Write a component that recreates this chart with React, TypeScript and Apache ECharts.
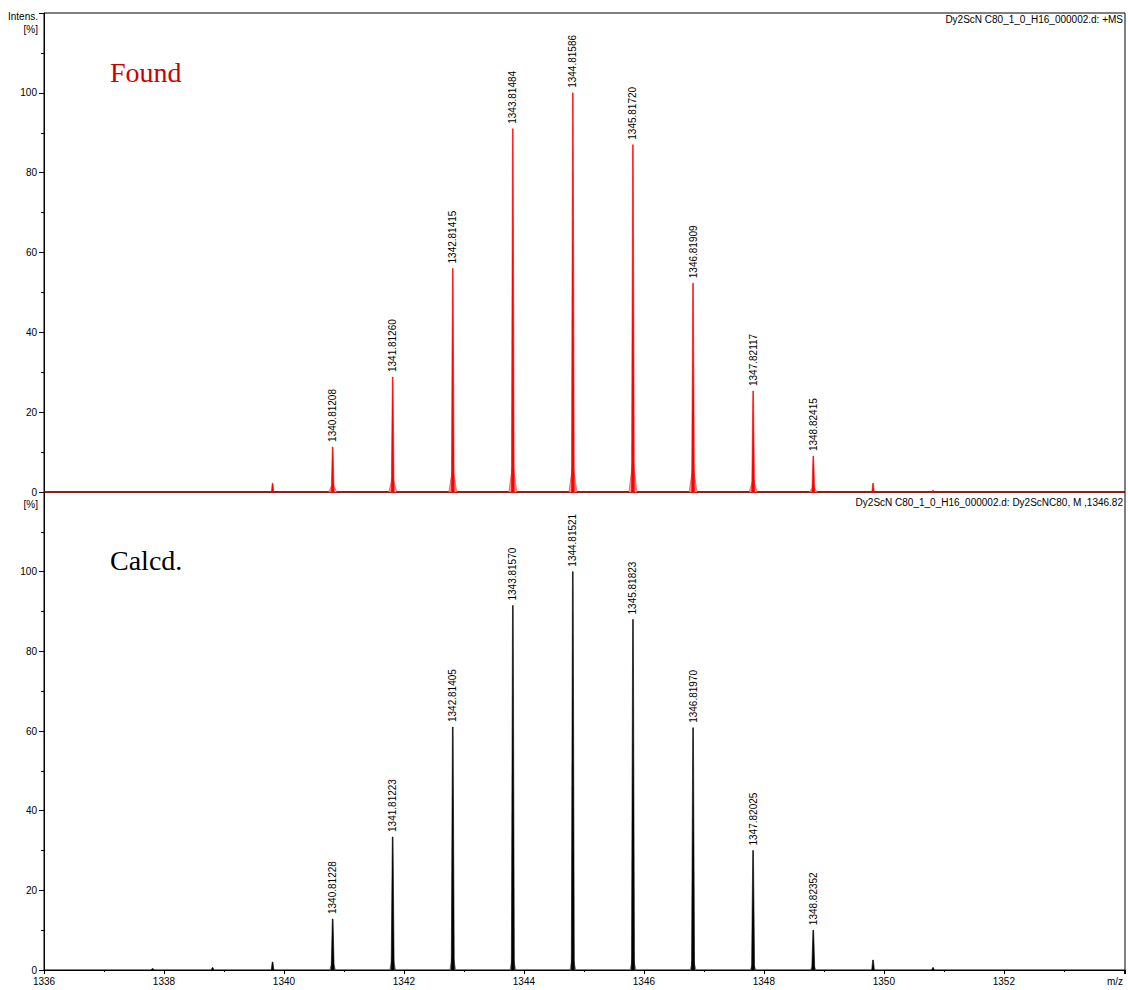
import React, { useEffect, useRef } from "react";
import * as echarts from "echarts";

// ---- Data ----
const foundMz = [1340.81208, 1341.8126, 1342.81415, 1343.81484, 1344.81586, 1345.8172, 1346.81909, 1347.82117, 1348.82415];
const foundInt = [11.3, 28.8, 56, 91, 100, 87, 52.3, 25.3, 9];
const foundShoulderInt = [2, 3.5, 5.5, 6.5, 6.5, 7.5, 6, 3, 1.2];
const foundMinorMz = [1339.81, 1349.82, 1350.82];
const foundMinorInt = [2.2, 2.2, 0.4];

const calcdMz = [1340.81228, 1341.81223, 1342.81405, 1343.8157, 1344.81521, 1345.81823, 1346.8197, 1347.82025, 1348.82352];
const calcdInt = [12.8, 33.4, 61, 91.5, 100, 88, 60.8, 30, 10];
const calcdShoulderInt = [2, 3, 3.5, 3, 3, 3, 2.5, 1.5, 1];
const calcdMinorMz = [1337.81, 1338.81, 1339.81, 1349.82, 1350.82];
const calcdMinorInt = [0.4, 0.6, 2, 2.5, 0.6];

const xMin = 1336;
const xMax = 1354.02;
const xInterval = 2;
const yTicks = [0, 20, 40, 60, 80, 100];
const yMax = 120;

const topTitle = "Dy2ScN C80_1_0_H16_000002.d: +MS";
const bottomTitle = "Dy2ScN C80_1_0_H16_000002.d: Dy2ScNC80, M ,1346.82";

const SANS = '"Liberation Sans", Arial, sans-serif';
const SERIF = '"Liberation Serif", "Times New Roman", serif';

function peakSeries(
  gi: number,
  mz: number[],
  ints: number[],
  color: string,
  opts: { labels?: boolean; halfBase?: number; baseline?: string; stroke?: string }
) {
  const halfBase = opts.halfBase ?? 1.3;
  return {
    type: "custom",
    xAxisIndex: gi,
    yAxisIndex: gi,
    clip: false,
    silent: true,
    data: mz.map((m, i) => [m, ints[i]]),
    renderItem: (params: any, api: any) => {
      const x = api.value(0);
      const y = api.value(1);
      const top = api.coord([x, y]);
      const base = api.coord([x, 0]);
      const children: any[] = [];
      if (opts.baseline && params.dataIndex === 0) {
        const cs = params.coordSys;
        children.push({
          type: "line",
          shape: { x1: cs.x, y1: base[1], x2: cs.x + cs.width, y2: base[1] },
          style: { stroke: opts.baseline, lineWidth: 1.2 },
        });
      }
      children.push({
        type: "polygon",
        shape: {
          points: [
            [top[0] - halfBase, base[1]],
            [top[0] - 0.35, top[1]],
            [top[0] + 0.35, top[1]],
            [top[0] + halfBase, base[1]],
          ],
        },
        style: { fill: color, stroke: opts.stroke ?? color, lineWidth: 0.6 },
      });
      if (opts.labels) {
        children.push({
          type: "text",
          x: top[0],
          y: top[1] - 5,
          rotation: Math.PI / 2,
          style: {
            text: x.toFixed(5),
            fill: "#000",
            font: `10px ${SANS}`,
            align: "left",
            verticalAlign: "middle",
          },
        });
      }
      return { type: "group", children };
    },
  };
}

function yAxisCfg(gi: number) {
  return {
    type: "value",
    gridIndex: gi,
    min: 0,
    max: yMax,
    interval: 20,
    axisLine: { show: true, lineStyle: { color: "#000", width: 1 } },
    axisTick: { show: true, length: 5, lineStyle: { color: "#000" } },
    minorTick: { show: true, splitNumber: 2, length: 3, lineStyle: { color: "#000" } },
    splitLine: { show: false },
    minorSplitLine: { show: false },
    axisLabel: {
      margin: 7,
      color: "#000",
      fontSize: 10,
      fontFamily: SANS,
      formatter: (v: number) => (yTicks.indexOf(v) >= 0 ? String(v) : ""),
    },
  };
}

export default function App() {
  const ref = useRef<HTMLDivElement>(null);
  useEffect(() => {
    if (!ref.current) return;
    const chart = echarts.init(ref.current, undefined, { renderer: "svg" });
    const option: any = {
      animation: false,
      backgroundColor: "#fff",
      grid: [
        { left: 44, right: 3, top: 13, height: 479, show: true, borderColor: "#000", borderWidth: 1, backgroundColor: "transparent" },
        { left: 44, right: 3, top: 492, height: 478, show: true, borderColor: "#000", borderWidth: 1, backgroundColor: "transparent" },
      ],
      xAxis: [
        {
          type: "value",
          gridIndex: 0,
          min: xMin,
          max: xMax,
          interval: xInterval,
          axisLine: { show: false },
          axisTick: { show: false },
          axisLabel: { show: false },
          splitLine: { show: false },
        },
        {
          type: "value",
          gridIndex: 1,
          min: xMin,
          max: xMax,
          interval: xInterval,
          axisLine: { show: true, lineStyle: { color: "#000", width: 1 } },
          axisTick: { show: true, length: 4, lineStyle: { color: "#000" } },
          minorTick: { show: true, splitNumber: 2, length: 2, lineStyle: { color: "#000" } },
          splitLine: { show: false },
          minorSplitLine: { show: false },
          axisLabel: {
            margin: 6,
            color: "#000",
            fontSize: 10,
            fontFamily: SANS,
            showMaxLabel: false,
            formatter: (v: number) =>
              Math.abs(v - Math.round(v)) < 1e-6 && Math.round(v) % 2 === 0 && v < 1353 ? String(Math.round(v)) : "",
          },
        },
      ],
      yAxis: [yAxisCfg(0), yAxisCfg(1)],
      series: [
        peakSeries(0, foundMz, foundShoulderInt, "#ff9a9a", { halfBase: 4, stroke: "#ff3030", baseline: "#e00000" }),
        peakSeries(0, foundMz, foundInt, "#ff0000", { labels: true, halfBase: 1.4 }),
        peakSeries(0, foundMinorMz, foundMinorInt, "#ff0000", { halfBase: 1.2 }),
        peakSeries(1, calcdMz, calcdShoulderInt, "#888888", { halfBase: 3, stroke: "#555" }),
        peakSeries(1, calcdMz, calcdInt, "#000000", { labels: true, halfBase: 1.5 }),
        peakSeries(1, calcdMinorMz, calcdMinorInt, "#000000", { halfBase: 1.3 }),
      ],
      graphic: [
        { type: "text", x: 38, y: 16, style: { text: "Intens.", font: `10px ${SANS}`, fill: "#000", align: "right", verticalAlign: "middle" } },
        { type: "text", x: 38, y: 29, style: { text: "[%]", font: `10px ${SANS}`, fill: "#000", align: "right", verticalAlign: "middle" } },
        { type: "text", x: 38, y: 504, style: { text: "[%]", font: `10px ${SANS}`, fill: "#000", align: "right", verticalAlign: "middle" } },
        { type: "text", x: 1123, y: 981, style: { text: "m/z", font: `10px ${SANS}`, fill: "#000", align: "right", verticalAlign: "middle" } },
        { type: "text", x: 1123, y: 19, style: { text: topTitle, font: `10px ${SANS}`, fill: "#000", align: "right", verticalAlign: "middle" } },
        { type: "text", x: 1123, y: 502, style: { text: bottomTitle, font: `10px ${SANS}`, fill: "#000", align: "right", verticalAlign: "middle" } },
        { type: "text", x: 110, y: 72, style: { text: "Found", font: `28px ${SERIF}`, fill: "#cc0000", align: "left", verticalAlign: "middle" } },
        { type: "text", x: 110, y: 560, style: { text: "Calcd.", font: `28px ${SERIF}`, fill: "#000", align: "left", verticalAlign: "middle" } },
      ],
    };
    chart.setOption(option);
    return () => chart.dispose();
  }, []);
  return (
    <div
      ref={ref}
      style={{ position: "absolute", left: 0, top: 0, width: 1128, height: 990 }}
    />
  );
}
